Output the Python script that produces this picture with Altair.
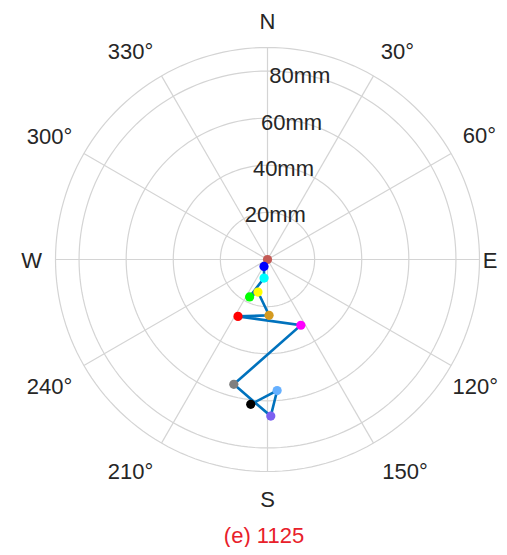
import math
import pandas as pd
import altair as alt

# ---- data ----
theta_deg = [0, 206.6, 190.5, 205.6, 196.3, 178.4, 207.4, 153.1, 195.1, 178.8, 175.8, 186.6]
r_mm = [0, 3.3, 8.0, 17.6, 14.4, 23.7, 27.2, 31.3, 54.9, 66.5, 55.8, 61.9]
point_colors = ["#C45A55", "#0000FF", "#00FFFF", "#00FF00", "#FFFF00", "#D49A20",
                "#FF0000", "#FF00FF", "#808080", "#7B60F0", "#66B0FF", "#000000"]
ring_values = [20, 40, 60, 80]
r_max = 90
theta_ticks = [0, 30, 60, 90, 120, 150, 180, 210, 240, 270, 300, 330]
theta_names = {0: "N", 90: "E", 180: "S", 270: "W"}
title_text = "(e) 1125"

# ---- layout ----
W, H = 491, 539
cx, cy = 259.5, 251.5          # centre of polar axes within plot area (px)
R_px = 212.0                   # outer ring radius (px)
k = R_px / r_max               # px per mm
FS = 22
FONT = "Liberation Sans"
TXT = "#262626"
GRID = "#D4D4D4"
# label-centre offsets (px) from the polar centre, per theta tick
label_offsets = {0: (0, -238), 30: (130, -207.5), 60: (212, -124), 90: (233, 1),
                 120: (219, 127.5), 150: (137.5, 212.5), 180: (0, 240.5),
                 210: (-137, 212.5), 240: (-218, 127.5), 270: (-236, 1),
                 300: (-218, -123), 330: (-137, -207.5)}

xdom = [-cx / k, (W - cx) / k]
ydom = [-(H - cy) / k, cy / k]
X = alt.X("x:Q", scale=alt.Scale(domain=xdom, nice=False, zero=False), axis=None)
Y = alt.Y("y:Q", scale=alt.Scale(domain=ydom, nice=False, zero=False), axis=None)


def pol(r, t):
    a = math.radians(t)
    return r * math.sin(a), r * math.cos(a)


# data points
rows = []
for i, (t, r) in enumerate(zip(theta_deg, r_mm)):
    x, y = pol(r, t)
    rows.append({"i": i, "x": x, "y": y, "c": f"p{i:02d}"})
df = pd.DataFrame(rows)

# rings
ring_rows = []
for r in ring_values + [r_max]:
    for j, t in enumerate(range(0, 361, 2)):
        x, y = pol(r, t)
        ring_rows.append({"ring": r, "j": j, "x": x, "y": y})
rings = pd.DataFrame(ring_rows)

# spokes
spoke_rows = []
for t in theta_ticks:
    x2, y2 = pol(r_max, t)
    spoke_rows.append({"x": 0.0, "y": 0.0, "x2": x2, "y2": y2})
spokes = pd.DataFrame(spoke_rows)

# radial labels
rl_rows = []
for r in ring_values:
    x, y = pol(r - 1.0, 10)
    rl_rows.append({"x": x, "y": y, "t": f"{r}mm"})
rlab = pd.DataFrame(rl_rows)

# theta labels
tl_rows = []
for t in theta_ticks:
    txt = theta_names.get(t, f"{t}°")
    w = 0.72 * FS if t in theta_names else (0.556 * len(str(t)) + 0.4) * FS
    dx, dy = label_offsets[t]
    px = cx + dx
    py = cy + dy
    px = min(px, W - w / 2 - 1)  # keep the label inside the drawing
    px = max(px, w / 2 + 1)
    tl_rows.append({"x": (px - cx) / k, "y": (cy - py) / k, "t": txt})
tlab = pd.DataFrame(tl_rows)

title_df = pd.DataFrame([{"x": -3.5 / k, "y": (cy - 535.0) / k, "t": title_text}])

ring_layer = alt.Chart(rings).mark_line(color=GRID, strokeWidth=1.2).encode(
    x=X, y=Y, detail="ring:N", order="j:Q")
spoke_layer = alt.Chart(spokes).mark_rule(color=GRID, strokeWidth=1.2).encode(
    x=X, y=Y, x2="x2:Q", y2="y2:Q")
line_layer = alt.Chart(df).mark_line(color="#0072BD", strokeWidth=2.6).encode(
    x=X, y=Y, order="i:Q")
pt_layer = alt.Chart(df).mark_circle(size=85, opacity=1).encode(
    x=X, y=Y,
    color=alt.Color("c:N", scale=alt.Scale(domain=[f"p{i:02d}" for i in range(len(df))],
                                           range=point_colors), legend=None))
rl_layer = alt.Chart(rlab).mark_text(font=FONT, fontSize=FS, color=TXT, align="center",
                                     baseline="middle").encode(x=X, y=Y, text="t:N")
tl_layer = alt.Chart(tlab).mark_text(font=FONT, fontSize=FS, color=TXT, align="center",
                                     baseline="middle").encode(x=X, y=Y, text="t:N")
title_layer = alt.Chart(title_df).mark_text(font=FONT, fontSize=FS, color="#E8202A",
                                            align="center", baseline="alphabetic").encode(
    x=X, y=Y, text="t:N")

chart = alt.layer(ring_layer, spoke_layer, rl_layer, tl_layer, line_layer, pt_layer,
                  title_layer).properties(
    width=W, height=H, padding=0, autosize=alt.AutoSizeParams(type="none")
).configure_view(stroke=None)

chart.save("out.html", embed_options={"renderer": "svg", "actions": False})
